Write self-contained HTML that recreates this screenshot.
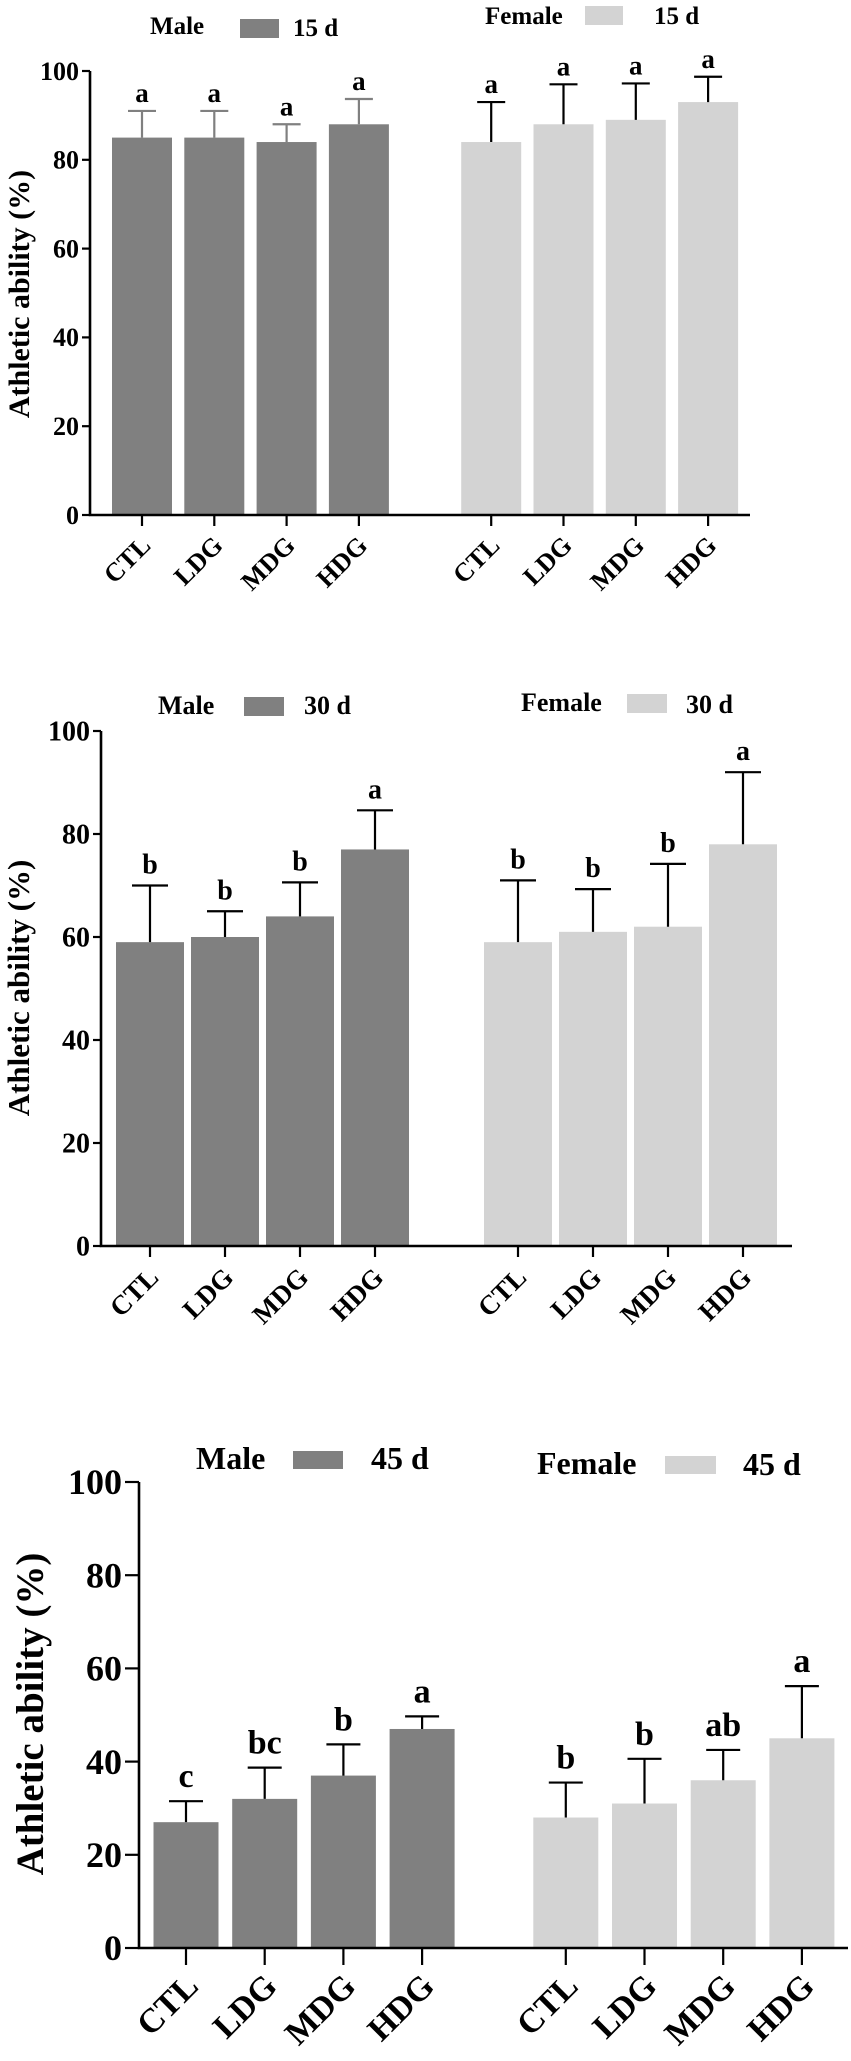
<!DOCTYPE html>
<html><head><meta charset="utf-8"><style>
html,body{margin:0;padding:0;background:#fff;}
svg{display:block;font-family:"Liberation Serif",serif;font-weight:bold;}
</style></head><body>
<svg id="chart" width="851" height="2061" viewBox="0 0 851 2061" xmlns="http://www.w3.org/2000/svg"></svg>
<script>
// ---- data ----
const categories = ["CTL","LDG","MDG","HDG"];
const yTicks = [0,20,40,60,80,100];
const panelDays = ["15 d","30 d","45 d"];
const male15 = [85,85,84,88];
const male15Err = [91,91,88,93.7];
const female15 = [84,88,89,93];
const female15Err = [93,97,97.2,98.7];
const male15Sig = ["a","a","a","a"];
const female15Sig = ["a","a","a","a"];
const male30 = [59,60,64,77];
const male30Err = [70,65,70.6,84.6];
const female30 = [59,61,62,78];
const female30Err = [71,69.3,74.2,92];
const male30Sig = ["b","b","b","a"];
const female30Sig = ["b","b","b","a"];
const male45 = [27,32,37,47];
const male45Err = [31.5,38.7,43.7,49.7];
const female45 = [28,31,36,45];
const female45Err = [35.5,40.6,42.5,56.2];
const male45Sig = ["c","bc","b","a"];
const female45Sig = ["b","b","ab","a"];

const NS="http://www.w3.org/2000/svg";
const svg=document.getElementById('chart');
function mk(tag,attrs,parent,text){const e=document.createElementNS(NS,tag);for(const k in attrs)e.setAttribute(k,attrs[k]);if(text!==undefined)e.textContent=text;(parent||svg).appendChild(e);return e;}

const layouts=[
 {axX:90,y0:515,y100:71,xEnd:750,x0:142,step:72.3,gap:60,barW:60,cap:28,tickLen:8,tickFs:26,titleFs:30,titleX:22,titleY:294,catFs:26,catDx:10,catDy:32,sigFs:27,sigGap:9,legFs:25,maleErrColor:"#808080",
  leg:{mx:150,my:34,msx:240,msy:19,msw:39,msh:19,mdx:293,mdy:36,fx:485,fy:24,fsx:585,fsy:6,fsw:38,fsh:19,fdx:654,fdy:24}},
 {axX:101,y0:1246,y100:731,xEnd:792,x0:150,step:75,gap:68,barW:68,cap:36,tickLen:8,tickFs:28,titleFs:31,titleX:22,titleY:988,catFs:27,catDx:10,catDy:33,sigFs:28,sigGap:12,legFs:26,maleErrColor:"#000",
  leg:{mx:158,my:714,msx:244,msy:697,msw:40,msh:19,mdx:304,mdy:714,fx:521,fy:711,fsx:627,fsy:694,fsw:40,fsh:19,fdx:686,fdy:713}},
 {axX:139,y0:1948,y100:1482,xEnd:848,x0:186,step:78.7,gap:65,barW:65,cap:34,tickLen:14,tickFs:36,titleFs:39,titleX:34,titleY:1714,catFs:34,catDx:14,catDy:40,sigFs:34,sigGap:14,legFs:32,maleErrColor:"#000",
  leg:{mx:196,my:1469,msx:293,msy:1451,msw:50,msh:18,mdx:371,mdy:1469,fx:537,fy:1474,fsx:665,fsy:1456,fsw:51,fsh:18,fdx:743,fdy:1475}}
];
const panels=[
 [male15,male15Err,male15Sig,female15,female15Err,female15Sig],
 [male30,male30Err,male30Sig,female30,female30Err,female30Sig],
 [male45,male45Err,male45Sig,female45,female45Err,female45Sig]
];

panels.forEach((pd,p)=>{
 const L=layouts[p];
 const g=mk('g',{});
 
 
 const y=v=>L.y0-(v/100)*(L.y0-L.y100);
 const cx=i=>L.x0+i*L.step+(i>=4?L.gap:0);
 const groups=[{vals:pd[0],err:pd[1],sig:pd[2],fill:"#808080",ec:L.maleErrColor,name:"male"},{vals:pd[3],err:pd[4],sig:pd[5],fill:"#d3d3d3",ec:"#000",name:"female"}];
 groups.forEach((G,gi)=>{
  G.vals.forEach((v,i)=>{
   const idx=gi*4+i, c=cx(idx);
   const r=mk('rect',{x:c-L.barW/2,y:y(v),width:L.barW,height:L.y0-y(v),fill:G.fill},g);
   
   
   const e=mk('path',{d:`M${c} ${y(v)}V${y(G.err[i])}M${c-L.cap/2} ${y(G.err[i])}H${c+L.cap/2}`,stroke:G.ec,'stroke-width':2.2,fill:'none'},g);
   
   
   const s=mk('text',{x:c,y:y(G.err[i])-L.sigGap,'text-anchor':'middle','font-size':L.sigFs},g,G.sig[i]);
   
   
   const t=mk('line',{x1:c,x2:c,y1:L.y0,y2:L.y0+L.tickLen+3,stroke:'#000','stroke-width':2.2},g);
   
   
   const lx=c+L.catDx, ly=L.y0+L.catDy;
   const lab=mk('text',{x:lx,y:ly,'text-anchor':'end','font-size':L.catFs,transform:`rotate(-45 ${lx} ${ly})`},g,categories[i]);
   
   
  });
 });
 const ax=mk('path',{d:`M${L.axX} ${L.y100}V${L.y0}H${L.xEnd}`,stroke:'#000','stroke-width':2.6,fill:'none'},g);
 
 
 yTicks.forEach(v=>{
  const tk=mk('line',{x1:L.axX-L.tickLen,x2:L.axX,y1:y(v),y2:y(v),stroke:'#000','stroke-width':2.2},g);
  
  
  const tl=mk('text',{x:L.axX-L.tickLen-3,y:y(v)+L.tickFs*0.34,'text-anchor':'end','font-size':L.tickFs},g,String(v));
  
  
 });
 const tt=mk('text',{x:L.titleX,y:L.titleY,'text-anchor':'middle','font-size':L.titleFs,'dominant-baseline':'middle',transform:`rotate(-90 ${L.titleX} ${L.titleY})`},g,"Athletic ability (%)");
 
 
 const lg=L.leg;
 const a=mk('text',{x:lg.mx,y:lg.my,'font-size':L.legFs},g,"Male");
 
 
 const b=mk('rect',{x:lg.msx,y:lg.msy,width:lg.msw,height:lg.msh,fill:'#808080'},g);
 
 
 const c2=mk('text',{x:lg.mdx,y:lg.mdy,'font-size':L.legFs},g,panelDays[p]);
 
 
 const d=mk('text',{x:lg.fx,y:lg.fy,'font-size':L.legFs},g,"Female");
 
 
 const e2=mk('rect',{x:lg.fsx,y:lg.fsy,width:lg.fsw,height:lg.fsh,fill:'#d3d3d3'},g);
 
 
 const f=mk('text',{x:lg.fdx,y:lg.fdy,'font-size':L.legFs},g,panelDays[p]);
 
 
});
</script>
</body></html>
